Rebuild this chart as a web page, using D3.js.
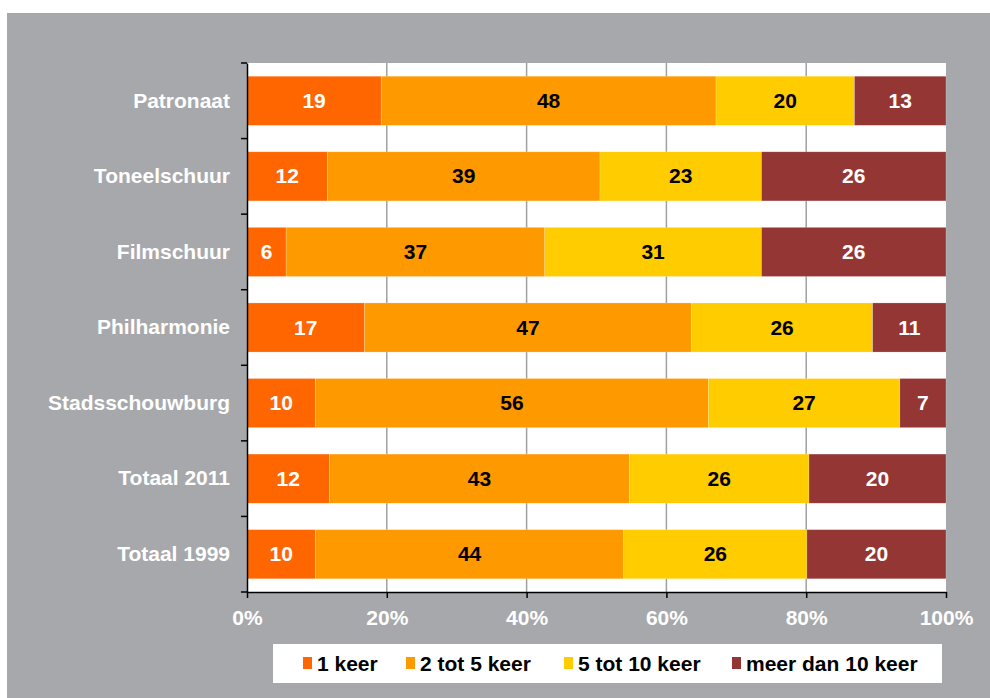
<!DOCTYPE html>
<html>
<head>
<meta charset="utf-8">
<script src="https://cdn.jsdelivr.net/npm/d3@7"></script>
<style>
    body { margin: 0; background: #fff; }
    text { font-family: Arial, "Liberation Sans", sans-serif; font-weight: bold; }
</style>
</head>
<body>
<script>
//chart data
var categories = ["Patronaat", "Toneelschuur", "Filmschuur", "Philharmonie", "Stadsschouwburg", "Totaal 2011", "Totaal 1999"];
var seriesNames = ["1 keer", "2 tot 5 keer", "5 tot 10 keer", "meer dan 10 keer"];
var eenKeer = [19.2, 11.5, 5.6, 16.8, 9.8, 11.8, 9.8];
var tweeTot5 = [47.9, 39.0, 37.0, 46.8, 56.2, 42.9, 44.1];
var vijfTot10 = [19.8, 23.1, 31.0, 25.9, 27.4, 25.7, 26.2];
var meerDan10 = [13.1, 26.4, 26.4, 10.5, 6.6, 19.6, 19.9];
var tickLabels = ["0%", "20%", "40%", "60%", "80%", "100%"];

var colors = ["#ff6600", "#ff9900", "#ffcc00", "#943634"];
var labelColors = ["#fff", "#000", "#000", "#fff"];

var width = 990,
    height = 698;

var svg = d3.select("body")
    .append("svg")
    .attr("width", width)
    .attr("height", height);

//gray chart background
svg.append("rect")
    .attr("x", 7).attr("y", 13)
    .attr("width", width - 7).attr("height", height - 13)
    .attr("fill", "#a7a8ab");

var plot = { left: 247, right: 946, top: 63, bottom: 592 };

var x = d3.scaleLinear()
    .domain([0, 100])
    .range([plot.left, plot.right]);

var y = d3.scaleBand()
    .domain(categories)
    .range([plot.top, plot.bottom])
    .paddingInner(0.35)
    .paddingOuter(0.175);

//plot area
svg.append("rect")
    .attr("x", plot.left).attr("y", plot.top)
    .attr("width", plot.right - plot.left).attr("height", plot.bottom - plot.top)
    .attr("fill", "#fff");

//vertical gridlines
svg.selectAll(".grid")
    .data(d3.range(20, 100, 20))
    .enter()
    .append("line")
    .attr("class", "grid")
    .attr("x1", function(d){ return x(d); })
    .attr("x2", function(d){ return x(d); })
    .attr("y1", plot.top).attr("y2", plot.bottom)
    .attr("stroke", "#a0a0a0")
    .attr("stroke-width", 1.5);

//stack the series
var table = categories.map(function(c, i){
    return { cat: c, s0: eenKeer[i], s1: tweeTot5[i], s2: vijfTot10[i], s3: meerDan10[i] };
});
var stack = d3.stack().keys(["s0", "s1", "s2", "s3"]);
var layers = stack(table);

var groups = svg.selectAll(".layer")
    .data(layers)
    .enter()
    .append("g")
    .attr("class", "layer")
    .attr("fill", function(d, i){ return colors[i]; });

groups.selectAll("rect")
    .data(function(d){ return d; })
    .enter()
    .append("rect")
    .attr("x", function(d){ return x(d[0]); })
    .attr("width", function(d){ return x(d[1]) - x(d[0]); })
    .attr("y", function(d){ return y(d.data.cat); })
    .attr("height", y.bandwidth())
    .attr("stroke", "rgba(255,255,255,0.35)")
    .attr("stroke-width", 0.6);

//value labels
layers.forEach(function(layer, k){
    svg.selectAll(".val" + k)
        .data(layer)
        .enter()
        .append("text")
        .attr("class", "val" + k)
        .attr("x", function(d){ return (x(d[0]) + x(d[1])) / 2; })
        .attr("y", function(d){ return y(d.data.cat) + y.bandwidth() / 2; })
        .attr("dy", "0.34em")
        .attr("text-anchor", "middle")
        .attr("font-size", "21px")
        .attr("fill", labelColors[k])
        .text(function(d){ return Math.round(d[1] - d[0]); });
});

//y axis
var yAxis = svg.append("g")
    .attr("transform", "translate(" + plot.left + ",0)")
    .call(d3.axisLeft(y).tickSize(0).tickPadding(17));
yAxis.select(".domain").attr("stroke", "#000").attr("stroke-width", 1.5);
yAxis.selectAll("text")
    .attr("fill", "#fff")
    .attr("font-size", "21px")
    .attr("font-family", null);

//band boundary ticks on the y axis
var bounds = categories.map(function(c){ return y(c) - y.step() * y.paddingInner() / 2; });
bounds.push(plot.bottom);
svg.selectAll(".ytick")
    .data(bounds)
    .enter()
    .append("line")
    .attr("x1", plot.left - 6).attr("x2", plot.left)
    .attr("y1", function(d){ return d; })
    .attr("y2", function(d){ return d; })
    .attr("stroke", "#000")
    .attr("stroke-width", 1.5);

//x axis
var xAxis = svg.append("g")
    .attr("transform", "translate(0," + plot.bottom + ")")
    .call(d3.axisBottom(x)
        .tickValues(d3.range(0, 101, 20))
        .tickFormat(function(d, i){ return tickLabels[i]; })
        .tickSize(6)
        .tickPadding(12)
        .tickSizeOuter(0));
xAxis.select(".domain").attr("stroke", "#000").attr("stroke-width", 1.5);
xAxis.selectAll(".tick line").attr("stroke", "#000").attr("stroke-width", 1.5);
xAxis.selectAll("text")
    .attr("fill", "#fff")
    .attr("font-size", "21px")
    .attr("font-family", null);

//legend
var legend = svg.append("g");
legend.append("rect")
    .attr("x", 273).attr("y", 644)
    .attr("width", 669).attr("height", 39)
    .attr("fill", "#fff");

var legendX = [303, 406, 564, 732];
var items = legend.selectAll(".item")
    .data(seriesNames)
    .enter()
    .append("g")
    .attr("class", "item")
    .attr("transform", function(d, i){ return "translate(" + legendX[i] + ",657)"; });
items.append("rect")
    .attr("width", 9).attr("height", 12)
    .attr("fill", function(d, i){ return colors[i]; });
items.append("text")
    .attr("x", 14)
    .attr("y", 14)
    .attr("font-size", "21px")
    .attr("fill", "#000")
    .text(function(d){ return d; });
</script>
</body>
</html>
